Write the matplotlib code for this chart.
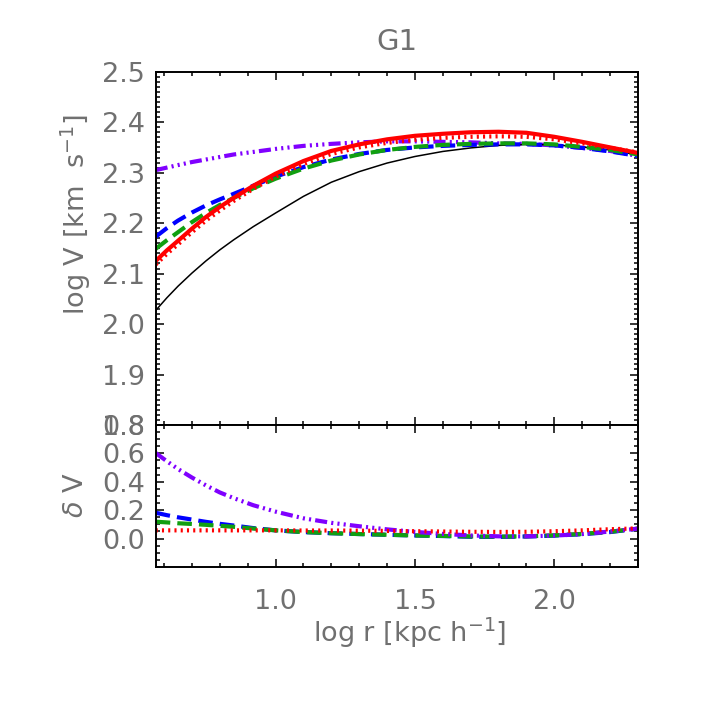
#!/usr/bin/env python3
"""Rotation curve G1: log V vs log r, with fractional residuals below."""
import matplotlib
matplotlib.use("Agg")
import matplotlib.pyplot as plt  # noqa: E402
from matplotlib.ticker import MultipleLocator  # noqa: E402

# radii (log r [kpc/h])
log_r = [0.57, 0.61, 0.65, 0.70, 0.75, 0.80, 0.85, 0.92, 1.0, 1.1, 1.2,
         1.3, 1.4, 1.5, 1.6, 1.7, 1.8, 1.9, 2.0, 2.1, 2.2, 2.3]

# top panel: log V [km/s]
v_black = [2.027, 2.052, 2.075, 2.101, 2.125, 2.147, 2.167, 2.193, 2.220, 2.253, 2.281,
           2.302, 2.319, 2.332, 2.342, 2.349, 2.354, 2.356, 2.355, 2.351, 2.345, 2.335]
v_red = [2.125, 2.146, 2.165, 2.189, 2.212, 2.232, 2.250, 2.274, 2.298, 2.323, 2.343,
         2.356, 2.366, 2.373, 2.377, 2.380, 2.381, 2.379, 2.371, 2.361, 2.350, 2.339]
v_red_dot = [2.118, 2.139, 2.158, 2.182, 2.205, 2.225, 2.244, 2.268, 2.292, 2.317, 2.337,
             2.350, 2.359, 2.365, 2.369, 2.371, 2.372, 2.371, 2.366, 2.358, 2.349, 2.340]
v_blue = [2.173, 2.190, 2.205, 2.221, 2.235, 2.247, 2.258, 2.274, 2.292, 2.311, 2.326,
          2.337, 2.345, 2.350, 2.353, 2.355, 2.356, 2.356, 2.354, 2.349, 2.342, 2.333]
v_green = [2.149, 2.166, 2.182, 2.202, 2.220, 2.236, 2.250, 2.269, 2.288, 2.308, 2.324,
           2.336, 2.345, 2.351, 2.355, 2.357, 2.358, 2.358, 2.356, 2.351, 2.345, 2.336]
v_purple = [2.305, 2.310, 2.315, 2.321, 2.326, 2.331, 2.336, 2.341, 2.347, 2.353, 2.357,
            2.360, 2.362, 2.362, 2.361, 2.360, 2.358, 2.357, 2.354, 2.349, 2.343, 2.333]

# bottom panel: delta V
d_purple = [0.603, 0.545, 0.49, 0.43, 0.375, 0.325, 0.285, 0.235, 0.19, 0.143, 0.111,
            0.087, 0.065, 0.047, 0.033, 0.022, 0.016, 0.016, 0.021, 0.032, 0.05, 0.07]
d_blue = [0.182, 0.165, 0.150, 0.134, 0.118, 0.104, 0.092, 0.074, 0.058, 0.046, 0.038,
          0.032, 0.027, 0.022, 0.018, 0.013, 0.012, 0.015, 0.021, 0.031, 0.046, 0.07]
d_green = [0.119, 0.114, 0.108, 0.103, 0.097, 0.090, 0.083, 0.071, 0.058, 0.046, 0.038,
           0.032, 0.027, 0.022, 0.019, 0.015, 0.014, 0.016, 0.023, 0.033, 0.048, 0.07]
d_red_dot = [0.058, 0.058, 0.058, 0.058, 0.058, 0.058, 0.058, 0.058, 0.058, 0.057, 0.057,
             0.056, 0.054, 0.052, 0.050, 0.048, 0.047, 0.048, 0.052, 0.058, 0.066, 0.072]

RED, BLUE, GREEN, PURPLE = "#ff0000", "#0000ff", "#119f11", "#8000ff"
TXT = "#707070"
FS = 19.5
DASH = (0, (3.5, 1.7))
DDD = (0, (2.9, 1.0, 0.5, 1.0, 0.5, 1.0, 0.5, 1.0))
DOT = (0, (0.5, 1.0))
LW = 3.0

W = H = 709.0
fig = plt.figure(figsize=(7.09, 7.09), dpi=100)
x0, x1 = 155.7 / W, 638.0 / W
ax = fig.add_axes([x0, 1 - 425 / H, x1 - x0, (425 - 71.7) / H])
bx = fig.add_axes([x0, 1 - 567 / H, x1 - x0, (567 - 425) / H])


def style(a):
    for s in a.spines.values():
        s.set_linewidth(1.4)
    a.tick_params(which="both", direction="in", top=True, right=True,
                  width=1.1, colors="black", labelcolor=TXT, labelsize=FS)
    a.tick_params(which="major", length=5.8)
    a.tick_params(which="minor", length=3.2)
    a.tick_params(axis="y", pad=7.5)
    a.tick_params(axis="x", pad=16)
    a.xaxis.set_major_locator(MultipleLocator(0.5))
    a.xaxis.set_minor_locator(MultipleLocator(0.1))
    a.set_xlim(0.57, 2.30)


# top panel
ax.plot(log_r, v_purple, color=PURPLE, lw=LW, ls=DDD)
ax.plot(log_r, v_black, color="black", lw=1.1)
ax.plot(log_r, v_blue, color=BLUE, lw=LW, ls=DASH)
ax.plot(log_r, v_green, color=GREEN, lw=LW, ls=DASH)
ax.plot(log_r, v_red_dot, color=RED, lw=LW, ls=DOT)
ax.plot(log_r, v_red, color=RED, lw=LW)
style(ax)
ax.set_ylim(1.8, 2.5)
ax.yaxis.set_major_locator(MultipleLocator(0.1))
ax.yaxis.set_minor_locator(MultipleLocator(0.01))
ax.yaxis.set_major_formatter(lambda v, p: f"{v:.1f}")
ax.tick_params(axis="x", labelbottom=False)

# bottom panel
bx.plot(log_r, d_blue, color=BLUE, lw=LW, ls=DASH)
bx.plot(log_r, d_green, color=GREEN, lw=LW, ls=DASH)
bx.plot(log_r, d_purple, color=PURPLE, lw=LW, ls=DDD)
bx.plot(log_r, d_red_dot, color=RED, lw=LW, ls=DOT)
style(bx)
bx.set_ylim(-0.2, 0.8)
bx.set_yticks([0.0, 0.2, 0.4, 0.6, 0.8])
bx.yaxis.set_minor_locator(MultipleLocator(0.05))
bx.yaxis.set_major_formatter(lambda v, p: f"{v:.1f}")
bx.xaxis.set_major_formatter(lambda v, p: f"{v:.1f}")

# labels placed at the reference pixel positions
fig.text(397 / W, 1 - 42 / H, "G1", ha="center", va="center", fontsize=21, color=TXT)
fig.text(76 / W, 1 - 215 / H, r"log V [km  s$^{-1}$]", rotation=90,
         ha="center", va="center", fontsize=FS, color=TXT)
fig.text(76 / W, 1 - 495 / H, r"$\delta$ V", rotation=90,
         ha="center", va="center", fontsize=FS, color=TXT)
fig.text(410 / W, 1 - 633 / H, r"log r [kpc h$^{-1}$]",
         ha="center", va="center", fontsize=FS, color=TXT)

fig.savefig("out.png", dpi=100)
